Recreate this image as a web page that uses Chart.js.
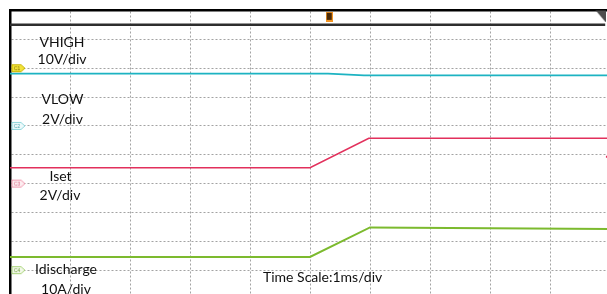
<!DOCTYPE html>
<html lang="en">
<head>
    <meta charset="UTF-8">
    <title>Scope capture</title>
    <script src="https://cdn.jsdelivr.net/npm/chart.js"></script>
    <style>
        html, body { margin: 0; padding: 0; background: #fff; overflow: hidden; }
        #scope { position: absolute; left: 0; top: 0; }
    </style>
</head>
<body>
    <canvas id="scope" width="620" height="304"></canvas>

    <script>
        // time in ms (1 ms/div), level in divisions from screen centre
        const topT = [-5, 4.92];
        const topDiv = [4.51, 4.51];

        const vhighT = [-5, 0.3, 0.9, 5];
        const vhighDiv = [2.81, 2.81, 2.75, 2.75];

        const isetT = [-5, 0, 0.98, 5];
        const isetDiv = [-0.45, -0.45, 0.57, 0.57];

        const idisT = [-5, 0, 1.0, 5];
        const idisDiv = [-3.54, -3.54, -2.52, -2.57];

        // channel ground markers on the left edge
        const tagNames = ['C1', 'C2', 'C3', 'C4'];
        const tagDiv = [3, 1, -1, -4];

        // labels written on the screen
        const labelLines = [
            ['VHIGH', 62, 46.5], ['10V/div', 62, 63.5],
            ['VLOW', 62.5, 104], ['2V/div', 62.5, 124],
            ['Iset', 60.5, 180.5], ['2V/div', 60, 199.5],
            ['Idischarge', 66, 274], ['10A/div', 66, 293.5]
        ];
        const timeScaleText = 'Time Scale:1ms/div';

        function pts(xs, ys) {
            return xs.map((x, i) => ({ x: x, y: ys[i] }));
        }

        function makeTag(name, fill, stroke, textColor) {
            const c = document.createElement('canvas');
            c.width = 15; c.height = 10;
            const g = c.getContext('2d');
            g.beginPath();
            g.moveTo(1, 1.5); g.lineTo(10, 1.5); g.lineTo(14, 5); g.lineTo(10, 8.5); g.lineTo(1, 8.5);
            g.closePath();
            g.fillStyle = fill; g.fill();
            g.strokeStyle = stroke; g.lineWidth = 1; g.stroke();
            g.fillStyle = textColor;
            g.font = '5px sans-serif';
            g.textBaseline = 'middle';
            g.fillText(name, 3, 5.2);
            return c;
        }

        function makeTrigger() {
            const c = document.createElement('canvas');
            c.width = 7; c.height = 10;
            const g = c.getContext('2d');
            g.fillStyle = '#f29422';
            g.fillRect(0, 0, 7, 10);
            g.fillStyle = '#4a2a08';
            g.fillRect(1, 1, 5, 7);
            g.fillStyle = '#f29422';
            g.fillRect(3, 9, 1, 1);
            return c;
        }

        function makeCorner() {
            const c = document.createElement('canvas');
            c.width = 11; c.height = 13;
            const g = c.getContext('2d');
            g.beginPath();
            g.moveTo(0, 0); g.lineTo(11, 0); g.lineTo(11, 13);
            g.closePath();
            g.fillStyle = '#4d4d4d'; g.fill();
            return c;
        }

        const tagStyles = [
            ['#f3e33a', '#c8b400', '#7a6d00'],
            ['#eefafb', '#8fd6dc', '#4aa8b0'],
            ['#fdeef1', '#f19bb0', '#d8607e'],
            ['#f3f9ea', '#a9d47a', '#6a9d36']
        ];
        const tagImages = tagNames.map((n, i) => makeTag(n, tagStyles[i][0], tagStyles[i][1], tagStyles[i][2]));

        const screenText = {
            id: 'screenText',
            afterDatasetsDraw(chart) {
                const ctx = chart.ctx;
                ctx.save();
                ctx.fillStyle = '#111';
                ctx.font = '14px Lato, "Open Sans", sans-serif';
                ctx.textBaseline = 'alphabetic';
                ctx.textAlign = 'center';
                labelLines.forEach(l => ctx.fillText(l[0], l[1], l[2]));
                ctx.textAlign = 'left';
                ctx.fillText(timeScaleText, 263, 281.5);
                ctx.restore();
            }
        };

        const lineSet = (label, data, color, width) => ({
            label: label,
            data: data,
            borderColor: color,
            borderWidth: width,
            pointRadius: 0,
            fill: false,
            tension: 0,
            order: 2
        });

        const config = {
            type: 'line',
            data: {
                datasets: [
                    lineSet('top', pts(topT, topDiv), '#2e2e2e', 2.5),
                    lineSet('VHIGH', pts(vhighT, vhighDiv), '#1db3c2', 1.8),
                    lineSet('Iset', pts(isetT, isetDiv), '#e2305c', 1.6),
                    lineSet('Idischarge', pts(idisT, idisDiv), '#7cba2e', 2),
                    {
                        label: 'tags',
                        data: pts(tagNames.map(() => -4.86), tagDiv),
                        showLine: false,
                        pointStyle: tagImages,
                        order: 1
                    },
                    {
                        label: 'trigger',
                        data: [{ x: 0.32, y: 4.78 }],
                        showLine: false,
                        pointStyle: makeTrigger(),
                        order: 1
                    },
                    {
                        label: 'corner',
                        data: [{ x: 4.84, y: 4.81 }],
                        showLine: false,
                        pointStyle: makeCorner(),
                        order: 1
                    },
                    {
                        label: 'edge',
                        data: [{ x: 4.95, y: -0.07 }],
                        showLine: false,
                        pointStyle: 'rect',
                        pointRadius: 1.5,
                        backgroundColor: '#e2305c',
                        borderColor: '#e2305c',
                        borderWidth: 0,
                        order: 1
                    }
                ]
            },
            options: {
                responsive: false,
                animation: false,
                devicePixelRatio: 1,
                layout: { padding: { left: 10, top: 10.5, right: 10, bottom: 1.5 } },
                plugins: { legend: { display: false }, tooltip: { enabled: false } },
                scales: {
                    x: {
                        type: 'linear',
                        position: 'top',
                        min: -5,
                        max: 5,
                        ticks: { display: false, stepSize: 1 },
                        grid: { color: '#a3a3a3', lineWidth: 1, drawTicks: false },
                        border: { display: true, color: '#000', width: 2.5, dash: [2, 2] }
                    },
                    y: {
                        type: 'linear',
                        min: -5,
                        max: 5,
                        ticks: { display: false, stepSize: 1 },
                        grid: { color: '#a3a3a3', lineWidth: 1, drawTicks: false },
                        border: { display: true, color: '#000', width: 2.5, dash: [2, 2] }
                    }
                }
            },
            plugins: [screenText]
        };

        const ctx = document.getElementById('scope').getContext('2d');
        const scopeChart = new Chart(ctx, config);
    </script>
</body>
</html>
